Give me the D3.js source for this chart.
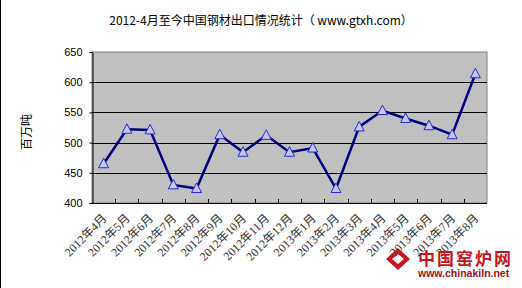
<!DOCTYPE html>
<html>
<head>
<meta charset="utf-8">
<title>2012-4月至今中国钢材出口情况统计</title>
<style>
  html, body { margin: 0; padding: 0; background: #fff; }
  svg { display: block; }
</style>
</head>
<body>
<script src="https://cdn.jsdelivr.net/npm/d3@7/dist/d3.min.js"></script>
<script>
// data
var months = ["2012年4月", "2012年5月", "2012年6月", "2012年7月", "2012年8月", "2012年9月",
              "2012年10月", "2012年11月", "2012年12月", "2013年1月", "2013年2月", "2013年3月",
              "2013年4月", "2013年5月", "2013年6月", "2013年7月", "2013年8月"];
var exports = [465, 522, 521, 430, 424, 513, 484, 512, 484, 491, 424, 526, 553, 540, 528, 513, 614];
var yTicks = [400, 450, 500, 550, 600, 650];

var width = 522, height = 288;
var plot = { left: 92, top: 52, right: 487, bottom: 203 };

var svg = d3.select("body").append("svg")
    .attr("width", width)
    .attr("height", height);

// black edge on the left
svg.append("rect").attr("x", 0).attr("y", 0).attr("width", 1).attr("height", height).attr("fill", "#000");

var x = d3.scaleBand().domain(months).range([plot.left, plot.right]);
var y = d3.scaleLinear().domain([400, 650]).range([plot.bottom, plot.top]);

// title
svg.append("text")
    .attr("x", 261).attr("y", 25)
    .attr("text-anchor", "middle")
    .style("font-family", "'Noto Sans CJK SC', sans-serif")
    .style("font-size", "12px")
    .attr("fill", "#000")
    .text("2012-4月至今中国钢材出口情况统计（ www.gtxh.com）");

// plot area
svg.append("rect")
    .attr("x", plot.left).attr("y", plot.top)
    .attr("width", plot.right - plot.left).attr("height", plot.bottom - plot.top)
    .attr("fill", "#c0c0c0")
    .attr("stroke", "#808080")
    .attr("stroke-width", 1);

// gridlines
svg.selectAll(".grid").data(yTicks.slice(1, -1)).enter().append("line")
    .attr("x1", plot.left).attr("x2", plot.right)
    .attr("y1", function(d) { return Math.round(y(d)) + 0.5; })
    .attr("y2", function(d) { return Math.round(y(d)) + 0.5; })
    .attr("stroke", "#000").attr("stroke-width", 1.2);

// y axis
var yAxis = svg.append("g")
    .attr("transform", "translate(" + (plot.left + 0.5) + ",0)")
    .call(d3.axisLeft(y).tickValues(yTicks).tickSize(3).tickPadding(7));
yAxis.select(".domain").attr("stroke", "#000");
yAxis.selectAll("text")
    .style("font-family", "'Liberation Sans', Arial, sans-serif")
    .style("font-size", "11px")
    .attr("fill", "#000");

// x axis line with inside ticks at category borders
svg.append("line")
    .attr("x1", plot.left).attr("x2", plot.right)
    .attr("y1", plot.bottom + 0.5).attr("y2", plot.bottom + 0.5)
    .attr("stroke", "#000");
svg.selectAll(".xtick").data(months.slice(1)).enter().append("line")
    .attr("x1", function(d) { return Math.round(x(d)) + 0.5; })
    .attr("x2", function(d) { return Math.round(x(d)) + 0.5; })
    .attr("y1", plot.bottom - 4).attr("y2", plot.bottom)
    .attr("stroke", "#000");

// x labels
svg.selectAll(".xlab").data(months).enter().append("text")
    .attr("transform", function(d) {
        return "translate(" + (x(d) + x.bandwidth() / 2 + 4) + "," + (plot.bottom + 16) + ") rotate(-45)";
    })
    .attr("text-anchor", "end")
    .style("font-family", "'Liberation Serif', 'Noto Sans CJK SC', serif")
    .style("font-size", "12px")
    .attr("fill", "#333")
    .text(function(d) { return d; });

// y label
svg.append("text")
    .attr("transform", "translate(31,132) rotate(-90)")
    .attr("text-anchor", "middle")
    .style("font-family", "'Noto Sans CJK SC', sans-serif")
    .style("font-size", "12px")
    .attr("fill", "#000")
    .text("百万吨");

// line
var line = d3.line()
    .x(function(d, i) { return x(months[i]) + x.bandwidth() / 2; })
    .y(function(d) { return y(d); });

svg.append("path")
    .datum(exports)
    .attr("d", line)
    .attr("fill", "none")
    .attr("stroke", "#000080")
    .attr("stroke-width", 2.5);

// triangle markers
svg.selectAll(".mark").data(exports).enter().append("path")
    .attr("d", "M0,-5.5L5,4L-5,4Z")
    .attr("transform", function(d, i) {
        return "translate(" + (x(months[i]) + x.bandwidth() / 2) + "," + y(d) + ")";
    })
    .attr("fill", "#c4c4ff")
    .attr("stroke", "#2a2ac8")
    .attr("stroke-width", 1);

// watermark
var logo = svg.append("g").attr("transform", "translate(398,259)");
logo.append("path")
    .attr("d", "M-12,0L0,-11L12,0L0,11Z M-6,0L0,-5L6,0L0,5Z")
    .attr("fill", "#c8141e").attr("fill-rule", "evenodd");
svg.append("text")
    .attr("x", 418).attr("y", 265)
    .style("font-family", "'Noto Sans CJK SC', sans-serif")
    .style("font-size", "17px").style("font-weight", "bold")
    .style("letter-spacing", "2px")
    .attr("fill", "#c8141e")
    .text("中国窑炉网");
svg.append("text")
    .attr("x", 418).attr("y", 277)
    .style("font-family", "'Liberation Sans', Arial, sans-serif")
    .style("font-size", "10.5px").style("font-weight", "bold")
    .attr("fill", "#a01018")
    .text("www.chinakiln.net");
</script>
</body>
</html>
